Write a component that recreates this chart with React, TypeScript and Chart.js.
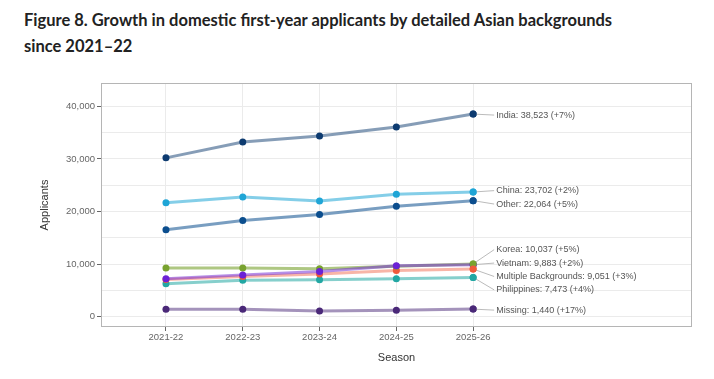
import React, { useEffect, useRef } from 'react';
import { Chart, registerables } from 'chart.js';

Chart.register(...registerables);

const seasons = ['2021-22', '2022-23', '2023-24', '2024-25', '2025-26'];

const india = [30200, 33200, 34350, 36050, 38523];
const china = [21650, 22750, 22000, 23300, 23702];
const other = [16550, 18300, 19450, 21000, 22064];
const vietnam = [7200, 7950, 8600, 9690, 9883];
const korea = [9250, 9250, 9130, 9600, 10037];
const multiple = [7050, 7650, 8100, 8790, 9051];
const philippines = [6250, 6950, 7030, 7190, 7473];
const missing = [1400, 1400, 1080, 1240, 1440];

const seriesNames = ['India', 'China', 'Other', 'Vietnam', 'Korea', 'Multiple Backgrounds', 'Philippines', 'Missing'];
const seriesValues = [india, china, other, vietnam, korea, multiple, philippines, missing];
const growthPct = [7, 2, 5, 2, 5, 3, 4, 17];
const pointColors = ['#0d3b70', '#1fa5d6', '#0b4e8e', '#6b21d6', '#78a22f', '#f05a3c', '#22a7a3', '#4a2878'];
const lineColors = [
  'rgba(13,59,112,0.5)',
  'rgba(31,165,214,0.55)',
  'rgba(11,78,142,0.55)',
  'rgba(107,33,214,0.5)',
  'rgba(120,162,47,0.6)',
  'rgba(240,90,60,0.45)',
  'rgba(34,167,163,0.55)',
  'rgba(74,40,120,0.5)',
];

const yTicks = [0, 5000, 10000, 15000, 20000, 25000, 30000, 35000, 40000];

const panelPlugin = {
  id: 'panelAndLabels',
  afterDatasetsDraw(chart: any) {
    const { ctx, chartArea, scales } = chart;
    ctx.save();
    ctx.strokeStyle = '#b5b5b5';
    ctx.lineWidth = 1;
    ctx.strokeRect(chartArea.left + 0.5, chartArea.top + 0.5, chartArea.right - chartArea.left - 1, chartArea.bottom - chartArea.top - 1);

    // repelled end labels
    const last = seasons.length - 1;
    const px = scales.x.getPixelForValue(last);
    const items = seriesValues.map((vals, i) => {
      const v = vals[last];
      return {
        i,
        py: scales.y.getPixelForValue(v),
        desired: scales.y.getPixelForValue(v),
        text: `${seriesNames[i]}: ${v.toLocaleString('en-US')} (+${growthPct[i]}%)`,
      };
    });
    items.sort((a, b) => a.desired - b.desired);
    const gap = 13.4;
    let clusters: any[] = items.map((it) => ({ members: [it], center: it.desired }));
    let changed = true;
    while (changed) {
      changed = false;
      for (let k = 0; k < clusters.length - 1; k++) {
        const a = clusters[k];
        const b = clusters[k + 1];
        const aBottom = a.center + ((a.members.length - 1) * gap) / 2;
        const bTop = b.center - ((b.members.length - 1) * gap) / 2;
        if (bTop - aBottom < gap) {
          const members = a.members.concat(b.members);
          const center = members.reduce((s: number, m: any) => s + m.desired, 0) / members.length;
          clusters.splice(k, 2, { members, center });
          changed = true;
          break;
        }
      }
    }
    const labelX = px + 23;
    ctx.font = '9px "Liberation Sans", Arial, sans-serif';
    ctx.textBaseline = 'middle';
    ctx.textAlign = 'left';
    clusters.forEach((c) => {
      const n = c.members.length;
      c.members.forEach((m: any, j: number) => {
        const ly = c.center + (j - (n - 1) / 2) * gap + 1;
        ctx.strokeStyle = '#aaaaaa';
        ctx.lineWidth = 0.8;
        ctx.beginPath();
        ctx.moveTo(px, m.py);
        ctx.lineTo(labelX - 2, ly);
        ctx.stroke();
        ctx.fillStyle = '#555555';
        ctx.fillText(m.text, labelX, ly);
      });
    });
    seriesValues.forEach((vals, i) => {
      const py = scales.y.getPixelForValue(vals[last]);
      ctx.fillStyle = pointColors[i];
      ctx.beginPath();
      ctx.arc(px, py, 3.5, 0, Math.PI * 2);
      ctx.fill();
    });
    ctx.restore();
  },
};

export default function App() {
  const ref = useRef<HTMLCanvasElement>(null);
  useEffect(() => {
    if (!ref.current) return;
    const chart = new Chart(ref.current, {
      type: 'line',
      data: {
        datasets: seriesNames.map((name, i) => ({
          label: name,
          data: seriesValues[i].map((v, j) => ({ x: j, y: v })),
          borderColor: lineColors[i],
          backgroundColor: pointColors[i],
          pointBackgroundColor: pointColors[i],
          pointBorderWidth: 0,
          pointRadius: 3.5,
          borderWidth: 3,
          tension: 0,
          fill: false,
        })),
      },
      plugins: [panelPlugin],
      options: {
        animation: false,
        responsive: true,
        maintainAspectRatio: false,
        layout: { padding: { left: 0, right: 22, top: 83, bottom: 0 } },
        plugins: { legend: { display: false }, tooltip: { enabled: false } },
        scales: {
          x: {
            type: 'linear',
            min: -0.846,
            max: 6.85,
            afterBuildTicks: (s: any) => {
              s.ticks = seasons.map((_, i) => ({ value: i }));
            },
            afterFit: (s: any) => {
              s.height = 52;
            },
            border: { display: false },
            grid: { color: '#ebebeb', lineWidth: 1, tickColor: '#666', tickLength: 4 },
            ticks: {
              autoSkip: false,
              maxRotation: 0,
              padding: 1,
              color: '#666',
              font: { family: '"Liberation Sans", Arial, sans-serif', size: 9.5 },
              callback: (v: any) => seasons[v] ?? '',
            },
            title: {
              display: true,
              text: 'Season',
              color: '#333',
              font: { family: '"Liberation Sans", Arial, sans-serif', size: 11 },
              padding: { top: 0, bottom: 14 },
            },
          },
          y: {
            type: 'linear',
            min: -1960,
            max: 44430,
            afterBuildTicks: (s: any) => {
              s.ticks = yTicks.map((v) => ({ value: v }));
            },
            afterFit: (s: any) => {
              s.width = 101;
            },
            border: { display: false },
            grid: {
              color: '#ebebeb',
              lineWidth: 1,
              tickLength: 4,
              tickColor: (c: any) => (c.tick && c.tick.value % 10000 === 0 ? '#666' : 'rgba(0,0,0,0)'),
            },
            ticks: {
              padding: 2,
              color: '#666',
              font: { family: '"Liberation Sans", Arial, sans-serif', size: 9.5 },
              callback: (v: any) => (v % 10000 === 0 ? Number(v).toLocaleString('en-US') : ''),
            },
            title: {
              display: true,
              text: 'Applicants',
              color: '#333',
              font: { family: '"Liberation Sans", Arial, sans-serif', size: 11 },
              padding: { top: 38.4, bottom: 0 },
            },
          },
        },
      },
    });
    return () => chart.destroy();
  }, []);

  return (
    <div style={{ position: 'absolute', left: 0, top: 0, width: 714, height: 379, background: '#fff' }}>
      <div
        style={{
          position: 'absolute',
          left: 24,
          top: 7,
          width: 680,
          fontFamily: 'Lato, "Noto Sans", sans-serif',
          fontWeight: 700,
          fontSize: 16.5,
          lineHeight: '26px',
          color: '#222',
        }}
      >
        Figure 8. Growth in domestic first-year applicants by detailed Asian backgrounds
        <br />
        since 2021–22
      </div>
      <div style={{ position: 'absolute', left: 0, top: 0, width: 714, height: 379 }}>
        <canvas ref={ref} />
      </div>
    </div>
  );
}
